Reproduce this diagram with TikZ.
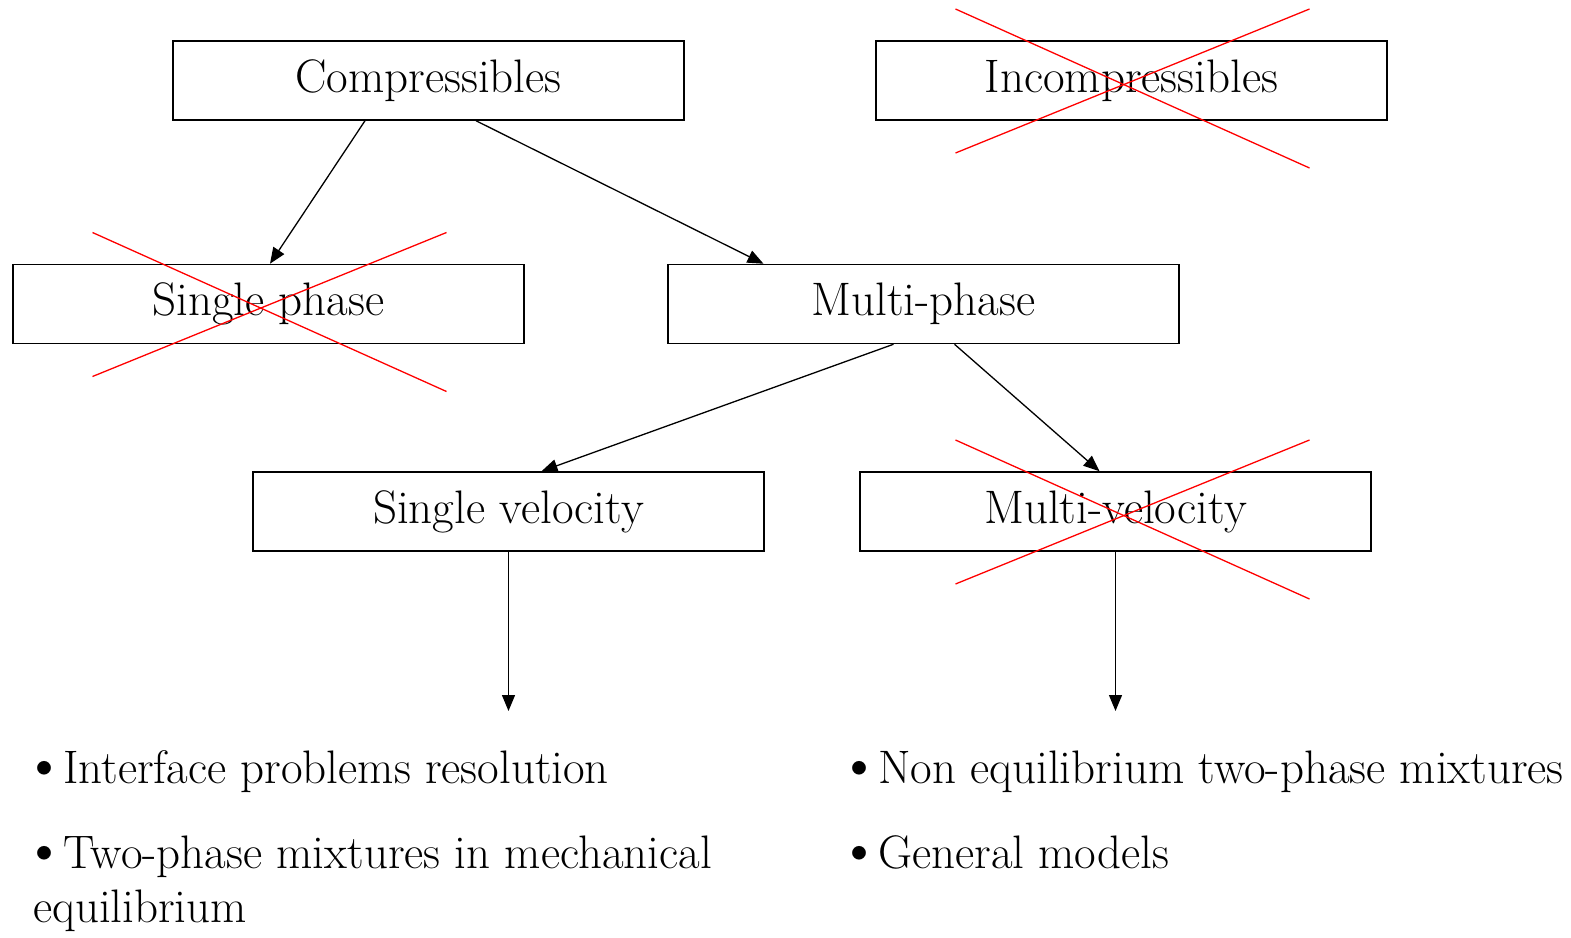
\documentclass[tikz,border=0pt]{standalone}
\usetikzlibrary{arrows.meta}
% bullet set in a fixed-width slot before each list entry
\newcommand\listbullet{\makebox[30pt][l]{\hspace{-11pt}\raisebox{-1pt}{\scalebox{1.3}{\textbullet}}}}
\begin{document}
\begin{tikzpicture}[x=1pt,y=-1pt,
  box/.style={draw,line width=1.5pt,minimum width=511pt,minimum height=79pt,inner sep=0pt,font=\fontsize{47}{55}\selectfont},
  conn/.style={line width=1.3pt,-{Triangle[length=16pt,width=13pt]}},
  cross/.style={red,line width=1.3pt},
  item/.style={anchor=base west,inner sep=0pt,font=\fontsize{47}{55}\selectfont}]
\useasboundingbox (0,0) rectangle (1571,937);
% boxes
\node[box] (comp) at (428.5,80.5) {Compressibles};
\node[box] (incomp) at (1131.5,80.5) {Incompressibles};
\node[box] (single) at (268.5,304) {Single phase};
\node[box] (multi) at (923.5,304) {Multi-phase};
\node[box] (sv) at (508.5,511.5) {Single velocity};
\node[box] (mv) at (1115.5,511.5) {Multi-velocity};
% free ends of the lower arrows
\coordinate (svend) at (508.5,711);
\coordinate (mvend) at (1115.5,711);
% connectors
\draw[conn] ([xshift=-63.5pt]comp.south) -- ([xshift=1.5pt]single.north);
\draw[conn] ([xshift=47.5pt]comp.south) -- ([xshift=-160pt]multi.north);
\draw[conn] ([xshift=-30pt]multi.south) -- ([xshift=33pt]sv.north);
\draw[conn] ([xshift=31pt]multi.south) -- ([xshift=-16pt]mv.north);
\draw[conn] (sv.south) -- (svend);
\draw[conn] (mv.south) -- (mvend);
% crossed-out options
\foreach \n/\dx in {incomp/0, single/0, mv/16}{
  \draw[cross] ([shift={(-176+\dx,-71.5)}]\n.center) -- ([shift={(178+\dx,87.5)}]\n.center);
  \draw[cross] ([shift={(-176+\dx,72.5)}]\n.center) -- ([shift={(178+\dx,-71.5)}]\n.center);
}
% lists
\node[item] (l1) at (33,783) {\listbullet Interface problems resolution};
\node[item] (l2) at (33,868) {\listbullet Two-phase mixtures in mechanical};
\node[item] (l2b) at (33,922) {equilibrium};
\node[item] (r1) at (848,783) {\listbullet Non equilibrium two-phase mixtures};
\node[item] (r2) at (848,868) {\listbullet General models};
\end{tikzpicture}
\end{document}
